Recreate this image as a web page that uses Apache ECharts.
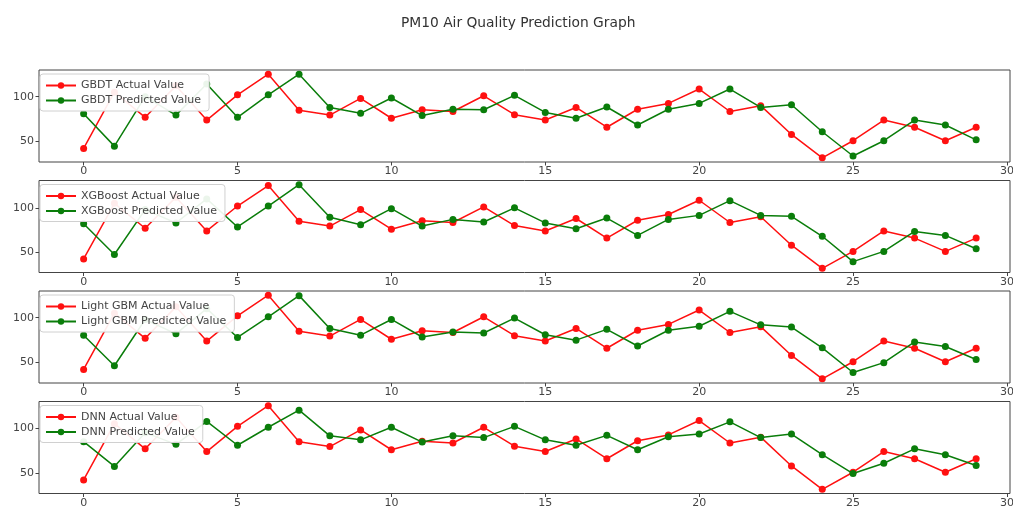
<!DOCTYPE html>
<html>
<head>
<meta charset="utf-8">
<script src="https://cdn.jsdelivr.net/npm/echarts@6/dist/echarts.min.js"></script>
<style>html,body{margin:0;padding:0;background:#fff}#c{width:1013px;height:509px}</style>
</head>
<body>
<div id="c"></div>
<script>
const xIndex = Array.from({length: 30}, (_, i) => i);
const actual = [42.5, 105, 77, 112, 74, 102, 125, 85, 79.5, 98, 76, 85.5, 83.5, 101, 80, 74, 88, 66, 86, 92.5, 108.5, 83.5, 90, 58, 32, 51, 74, 66, 51, 66];
const gbdtPred = [81, 45, 100, 79.5, 114, 77, 102, 125, 88, 81.5, 98.5, 79, 86, 85.5, 101.5, 82.5, 76, 88.5, 68.5, 86, 92.5, 108.5, 88, 91, 61, 34, 51, 74, 68.5, 52];
const xgbPred = [82, 47.5, 98, 83, 110, 78.5, 102, 126, 89.5, 81, 99, 79.5, 87, 84, 100, 83, 76.5, 88.5, 69, 87, 91.5, 108, 91.5, 90.5, 68, 39.5, 51, 73.5, 69, 54];
const lgbmPred = [80.5, 46.5, 98, 82, 110, 78, 101, 124.5, 88, 80.5, 98, 78.5, 84, 83, 99.5, 81, 75, 87, 68.5, 86, 90.5, 107, 92, 89.5, 66.5, 39, 50, 73, 68, 53.5];
const dnnPred = [85, 57.5, 95, 82, 107.5, 81, 101, 120, 91.5, 87, 101, 84.5, 91.5, 89.5, 102, 87, 81, 92, 76, 90.5, 93.5, 107, 89.5, 93.5, 70.5, 49.5, 61, 77, 70.5, 58.5];
const models = ['GBDT', 'XGBoost', 'Light GBM', 'DNN'];
const preds = [gbdtPred, xgbPred, lgbmPred, dnnPred];
const xTicks = [0, 5, 10, 15, 20, 25, 30];
const yTicks = [50, 100];
const titleText = 'PM10 Air Quality Prediction Graph';

const FONT = 'DejaVu Sans';
const tops = [70, 180.5, 291, 401.5];
const H = 92;
const grids = [], xAxes = [], yAxes = [], series = [], legends = [];

function range(a, b) {
  const all = a.concat(b);
  const mn = Math.min(...all), mx = Math.max(...all), p = (mx - mn) * 0.05;
  return [mn - p, mx + p];
}

models.forEach((m, k) => {
  grids.push({left: 39, width: 971, top: tops[k], height: H, outerBoundsMode: 'none', containLabel: false,
    show: true, borderColor: '#444', borderWidth: 1, backgroundColor: 'transparent'});
  xAxes.push({
    type: 'value', gridIndex: k, min: -1.45, max: 30.1,
    axisLine: {show: false, onZero: false},
    axisTick: {show: true, inside: false, length: 3.5, lineStyle: {color: '#444'}, customValues: xTicks},
    axisLabel: {color: '#444', fontFamily: FONT, fontSize: 11, margin: 4, customValues: xTicks},
    splitLine: {show: false}
  });
  const r = range(actual, preds[k]);
  yAxes.push({
    type: 'value', gridIndex: k, min: r[0], max: r[1],
    axisLine: {show: false, onZero: false},
    axisTick: {show: true, inside: false, length: 3.5, lineStyle: {color: '#444'}, customValues: yTicks},
    axisLabel: {color: '#444', fontFamily: FONT, fontSize: 11, margin: 5, customValues: yTicks},
    splitLine: {show: false}
  });
  const nA = m + ' Actual Value', nP = m + ' Predicted Value';
  series.push({
    name: nA, type: 'line', xAxisIndex: k, yAxisIndex: k,
    data: xIndex.map((x, i) => [x, actual[i]]),
    symbol: 'circle', symbolSize: 7, color: '#ff1010',
    lineStyle: {width: 1.5, color: '#ff1010'}, itemStyle: {color: '#ff1010'},
    animation: false, z: 2
  });
  series.push({
    name: nP, type: 'line', xAxisIndex: k, yAxisIndex: k,
    data: xIndex.map((x, i) => [x, preds[k][i]]),
    symbol: 'circle', symbolSize: 7, color: '#0a7d0a',
    lineStyle: {width: 1.5, color: '#0a7d0a'}, itemStyle: {color: '#0a7d0a'},
    animation: false, z: 3
  });
  legends.push({
    data: [nA, nP], orient: 'vertical', left: 40, top: tops[k] + 4,
    itemWidth: 30, itemHeight: 8, itemGap: 4,
    padding: [6, 8, 5, 5],
    backgroundColor: 'rgba(255,255,255,0.92)', borderColor: '#d0d0d0', borderWidth: 1, borderRadius: 3,
    textStyle: {color: '#444', fontFamily: FONT, fontSize: 11},
    z: 10
  });
});

const chart = echarts.init(document.getElementById('c'), null, {renderer: 'canvas'});
chart.setOption({
  animation: false,
  backgroundColor: '#fff',
  title: {text: titleText, left: 396, top: 11, textStyle: {color: '#333', fontFamily: FONT, fontSize: 13.8, fontWeight: 'normal'}},
  legend: legends,
  grid: grids,
  xAxis: xAxes,
  yAxis: yAxes,
  series: series
});
</script>
</body>
</html>
